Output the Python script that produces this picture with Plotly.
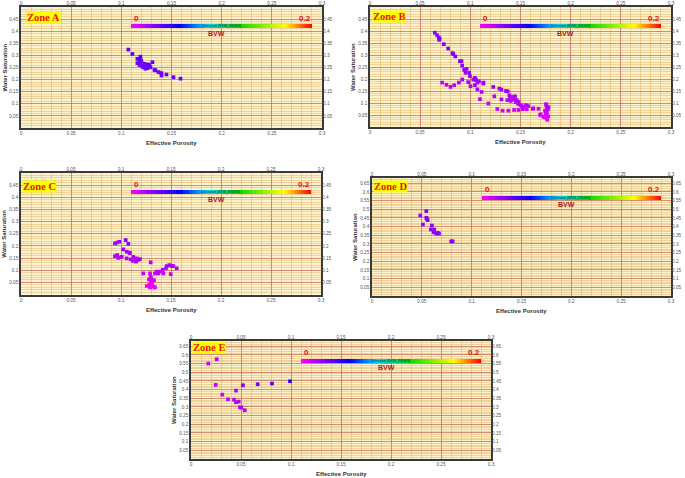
import plotly.graph_objects as go

# ---------------- data ----------------
X_TICKS = [0, 0.05, 0.1, 0.15, 0.2, 0.25, 0.3]
X_TICK_TEXT = ["0", "0.05", "0.1", "0.15", "0.2", "0.25", "0.3"]
Y_TICKS_ABC = [0.05, 0.1, 0.15, 0.2, 0.25, 0.3, 0.35, 0.4, 0.45]
Y_TICK_TEXT_ABC = ["0.05", "0.1", "0.15", "0.2", "0.25", "0.3", "0.35", "0.4", "0.45"]
Y_TICKS_DE = [0.05, 0.1, 0.15, 0.2, 0.25, 0.3, 0.35, 0.4, 0.45, 0.5, 0.55, 0.6, 0.65]
Y_TICK_TEXT_DE = ["0.05", "0.1", "0.15", "0.2", "0.25", "0.3", "0.35", "0.4", "0.45",
                  "0.5", "0.55", "0.6", "0.65"]
BVW_MIN, BVW_MAX = 0.0, 0.2

phi_A = [0.107, 0.111, 0.116, 0.119, 0.119, 0.116, 0.119, 0.120, 0.118, 0.121, 0.123,
         0.122, 0.125, 0.126, 0.128, 0.124, 0.129, 0.127, 0.131, 0.133, 0.134, 0.137,
         0.140, 0.140, 0.145, 0.152, 0.159, 0.121, 0.124, 0.126, 0.118, 0.123]
sw_A = [0.324, 0.306, 0.286, 0.286, 0.295, 0.268, 0.268, 0.276, 0.260, 0.258, 0.265,
        0.251, 0.258, 0.251, 0.258, 0.245, 0.251, 0.262, 0.272, 0.240, 0.238, 0.231,
        0.227, 0.217, 0.221, 0.210, 0.204, 0.254, 0.262, 0.247, 0.280, 0.255]

phi_B = [0.0646, 0.0669, 0.0686, 0.0690, 0.0695, 0.0736, 0.0779, 0.0822, 0.0830, 0.0850,
         0.0896, 0.0912, 0.0919, 0.0939, 0.0962, 0.0952, 0.0989, 0.0996, 0.1030, 0.1046,
         0.1056, 0.1086, 0.1070, 0.1130, 0.1130,
         0.0719, 0.0762, 0.0802, 0.0839, 0.0886, 0.0919, 0.0979, 0.1002, 0.1046, 0.1070,
         0.1112, 0.1096, 0.1179, 0.1229, 0.1239, 0.1289, 0.1310, 0.1355, 0.1372, 0.1310,
         0.1269, 0.1322, 0.1379, 0.1389, 0.1412, 0.1445, 0.1402, 0.1369, 0.1429, 0.1462,
         0.1479, 0.1489, 0.1505, 0.1555, 0.1529, 0.1579, 0.1628, 0.1436, 0.1479, 0.1522,
         0.1562, 0.1622, 0.1679, 0.1702, 0.1729, 0.1762, 0.1762, 0.1755, 0.1762, 0.1772,
         0.1745, 0.1779, 0.1762, 0.1395, 0.1435, 0.1455, 0.1515, 0.1475, 0.1758, 0.1770,
         0.1752, 0.1775, 0.1768, 0.1740, 0.1695]
sw_B = [0.393, 0.382, 0.373, 0.363, 0.368, 0.345, 0.327, 0.308, 0.304, 0.294,
        0.274, 0.274, 0.256, 0.238, 0.242, 0.226, 0.226, 0.212, 0.198, 0.205,
        0.196, 0.190, 0.185, 0.185, 0.181,
        0.185, 0.176, 0.167, 0.174, 0.185, 0.198, 0.187, 0.170, 0.174, 0.157,
        0.146, 0.116, 0.098, 0.167, 0.128, 0.160, 0.156, 0.150, 0.149, 0.115,
        0.075, 0.068, 0.068, 0.132, 0.126, 0.128, 0.109, 0.112, 0.119, 0.112,
        0.105, 0.094, 0.091, 0.091, 0.082, 0.087, 0.078, 0.071, 0.071, 0.074,
        0.074, 0.076, 0.076, 0.053, 0.043, 0.036, 0.050, 0.095, 0.084, 0.073,
        0.068, 0.082, 0.062, 0.122, 0.114, 0.104, 0.086, 0.098, 0.090, 0.078,
        0.058, 0.045, 0.030, 0.040, 0.050]

phi_C = [0.0940, 0.0963, 0.0983, 0.1047, 0.1073, 0.1023, 0.1057, 0.1083, 0.1090, 0.0940,
         0.0963, 0.0973, 0.1007, 0.1057, 0.1097, 0.1123, 0.1140, 0.1157, 0.1173, 0.1190,
         0.1150, 0.1117, 0.1297, 0.1223, 0.1290, 0.1297, 0.1280, 0.1297, 0.1257, 0.1283,
         0.1307, 0.1323, 0.1340, 0.1290, 0.1330, 0.1340, 0.1373, 0.1390, 0.1423, 0.1417,
         0.1450, 0.1457, 0.1483, 0.1507, 0.1523, 0.1557, 0.1497, 0.1357, 0.1310, 0.1300]
sw_C = [0.210, 0.214, 0.217, 0.224, 0.208, 0.186, 0.176, 0.172, 0.170, 0.158,
        0.162, 0.151, 0.155, 0.149, 0.145, 0.155, 0.142, 0.149, 0.142, 0.146,
        0.135, 0.138, 0.132, 0.087, 0.087, 0.073, 0.062, 0.053, 0.035, 0.039,
        0.043, 0.032, 0.029, 0.029, 0.059, 0.087, 0.087, 0.094, 0.087, 0.101,
        0.108, 0.117, 0.121, 0.117, 0.117, 0.108, 0.084, 0.094, 0.048, 0.066]

phi_D = [0.0484, 0.0511, 0.0545, 0.0545, 0.0558, 0.0551, 0.0601, 0.0591, 0.0625, 0.0618,
         0.0645, 0.0658, 0.0672, 0.0795, 0.0809]
sw_D = [0.464, 0.412, 0.489, 0.451, 0.437, 0.444, 0.406, 0.383, 0.383, 0.367,
        0.360, 0.364, 0.360, 0.315, 0.315]

phi_E = [0.0173, 0.0257, 0.0247, 0.0313, 0.0370, 0.0430, 0.0450, 0.0450, 0.0477, 0.0490,
         0.0503, 0.0520, 0.0537, 0.0667, 0.0810, 0.0990]
sw_E = [0.550, 0.575, 0.427, 0.371, 0.344, 0.342, 0.394, 0.327, 0.331, 0.298,
        0.296, 0.425, 0.281, 0.431, 0.435, 0.448]

ZONE_NAMES = ["Zone A", "Zone B", "Zone C", "Zone D", "Zone E"]
ZONE_PHI = [phi_A, phi_B, phi_C, phi_D, phi_E]
ZONE_SW = [sw_A, sw_B, sw_C, sw_D, sw_E]

# ---------------- layout (pixels) ----------------
W, H = 685, 478
BOXES = [(21, 7, 322, 128), (370, 7, 671, 127), (21, 173, 321, 294.5),
         (372, 178, 671, 296), (191, 341, 491, 459)]
YMAX = [0.5, 0.5, 0.5, 0.68, 0.68]
YTICKS = [Y_TICKS_ABC, Y_TICKS_ABC, Y_TICKS_ABC, Y_TICKS_DE, Y_TICKS_DE]
YTEXT = [Y_TICK_TEXT_ABC, Y_TICK_TEXT_ABC, Y_TICK_TEXT_ABC, Y_TICK_TEXT_DE, Y_TICK_TEXT_DE]
LABEL_POS = [(26, 11), (372, 10.5), (21.5, 180), (373, 180), (192, 341)]

COLORSCALE = [[0.0, "#ff00ff"], [0.27, "#0000ff"], [0.42, "#00d0ff"],
              [0.6, "#00dd00"], [0.85, "#ffff00"], [1.0, "#ff0000"]]

BG = "#fdf2cb"
MINOR = "rgba(222,170,100,0.45)"
MAJOR = "rgba(196,105,92,0.65)"
TICKFONT = dict(family="Liberation Sans", size=4.7, color="#555555")


def fx(px):
    return px / W


def fy(py):
    return 1 - py / H


def axkey(p, n):
    return p + "axis" + ("" if n == 1 else str(n))


def axref(p, n):
    return p + ("" if n == 1 else str(n))


fig = go.Figure()
layout = {}
annotations = []

for i, name in enumerate(ZONE_NAMES):
    l, t, r, b = BOXES[i]
    w = r - l
    n1, n2 = 2 * i + 1, 2 * i + 2
    phi, sw = ZONE_PHI[i], ZONE_SW[i]
    bvw = [p * s for p, s in zip(phi, sw)]
    ca = axref("coloraxis", i + 1)

    fig.add_trace(go.Scatter(
        x=phi, y=sw, mode="markers", xaxis=axref("x", n1), yaxis=axref("y", n1),
        marker=dict(symbol="square", size=3.7, color=bvw, coloraxis=ca, line=dict(width=0)),
        showlegend=False, hoverinfo="x+y"))
    fig.add_trace(go.Scatter(
        x=[None], y=[None], xaxis=axref("x", n2), yaxis=axref("y", n2),
        showlegend=False, hoverinfo="skip"))

    xdom = [fx(l), fx(r)]
    ydom = [fy(b), fy(t)]
    common_x = dict(range=[0, 0.3], tickmode="array", tickvals=X_TICKS, ticktext=X_TICK_TEXT,
                    ticks="", tickfont=TICKFONT, zeroline=False, fixedrange=True,
                    automargin=False)
    common_y = dict(range=[0, YMAX[i]], tickmode="array", tickvals=YTICKS[i], ticktext=YTEXT[i],
                    ticks="", tickfont=TICKFONT, zeroline=False, fixedrange=True,
                    automargin=False)

    layout[axkey("x", n1)] = dict(
        common_x, domain=xdom, anchor=axref("y", n1), showgrid=True, gridcolor=MAJOR,
        gridwidth=1, minor=dict(dtick=0.01, tick0=0, showgrid=True, gridcolor=MINOR,
                                gridwidth=1, ticks=""),
        showline=True, linecolor="#3a3a3a", linewidth=1.5, mirror=True)
    layout[axkey("y", n1)] = dict(
        common_y, domain=ydom, anchor=axref("x", n1), showgrid=True, gridcolor=MAJOR,
        gridwidth=1, minor=dict(dtick=0.01, tick0=0, showgrid=True, gridcolor=MINOR,
                                gridwidth=1, ticks=""),
        showline=True, linecolor="#3a3a3a", linewidth=1.5, mirror=True)
    layout[axkey("x", n2)] = dict(
        common_x, domain=xdom, overlaying=axref("x", n1), side="top",
        anchor=axref("y", n2), showgrid=False, showline=False)
    layout[axkey("y", n2)] = dict(
        common_y, domain=ydom, overlaying=axref("y", n1), side="right",
        anchor=axref("x", n2), showgrid=False, showline=False)

    # colour bar (BVW)
    bl = l + 0.11 / 0.3 * w
    br = l + 0.29 / 0.3 * w
    cy = t + 19.5
    layout[ca] = dict(
        cmin=BVW_MIN, cmax=BVW_MAX, colorscale=COLORSCALE,
        colorbar=dict(orientation="h", x=fx(bl), xanchor="left", y=fy(cy),
                      yanchor="middle", len=br - bl, lenmode="pixels", thickness=4,
                      thicknessmode="pixels", outlinewidth=0, xpad=0, ypad=0,
                      showticklabels=False, ticks="", tickvals=[]))

    annotations += [
        dict(text="<b>" + name + "</b>", x=fx(LABEL_POS[i][0]), y=fy(LABEL_POS[i][1]),
             xref="paper", yref="paper", xanchor="left", yanchor="top", showarrow=False,
             bgcolor="#ffff00", borderpad=0,
             font=dict(family="Liberation Serif", size=10.5, color="#ee1111")),
        dict(text="<b>0</b>", x=fx(bl + 2), y=fy(cy - 2.2), xref="paper", yref="paper",
             xanchor="left", yanchor="bottom", showarrow=False, borderpad=0,
             font=dict(family="Liberation Sans", size=8, color="#dd1111")),
        dict(text="<b>0.2</b>", x=fx(br), y=fy(cy - 2.2), xref="paper", yref="paper",
             xanchor="right", yanchor="bottom", showarrow=False, borderpad=0,
             font=dict(family="Liberation Sans", size=8, color="#dd1111")),
        dict(text="<b>BVW</b>", x=fx(l + 0.195 / 0.3 * w), y=fy(cy + 2.2), xref="paper",
             yref="paper", xanchor="center", yanchor="top", showarrow=False, borderpad=0,
             font=dict(family="Liberation Sans", size=7, color="#b01818")),
        dict(text="Unknown (BVW_INDEX)", x=fx(l + 0.2 / 0.3 * w), y=fy(cy), xref="paper",
             yref="paper", xanchor="center", yanchor="middle", showarrow=False, borderpad=0,
             font=dict(family="Liberation Sans", size=3.6, color="#203040")),
        dict(text="<b>Effective Porosity</b>", x=fx((l + r) / 2), y=fy(b + 15),
             xref="paper", yref="paper", xanchor="center", yanchor="middle",
             showarrow=False, borderpad=0,
             font=dict(family="Liberation Sans", size=6, color="#333333")),
        dict(text="<b>Water Saturation</b>", x=fx(l - 17), y=fy((t + b) / 2),
             xref="paper", yref="paper", xanchor="center", yanchor="middle",
             textangle=-90, showarrow=False, borderpad=0,
             font=dict(family="Liberation Sans", size=6, color="#333333")),
    ]

fig.update_layout(
    template="none", width=W, height=H, margin=dict(l=0, r=0, t=0, b=0),
    paper_bgcolor="white", plot_bgcolor=BG, showlegend=False,
    annotations=annotations, **layout)

fig.write_html(
    "out.html",
    config={"displayModeBar": False},
    post_script="document.body.style.margin='0';document.body.style.padding='0';"
                "document.documentElement.style.overflow='hidden';")
